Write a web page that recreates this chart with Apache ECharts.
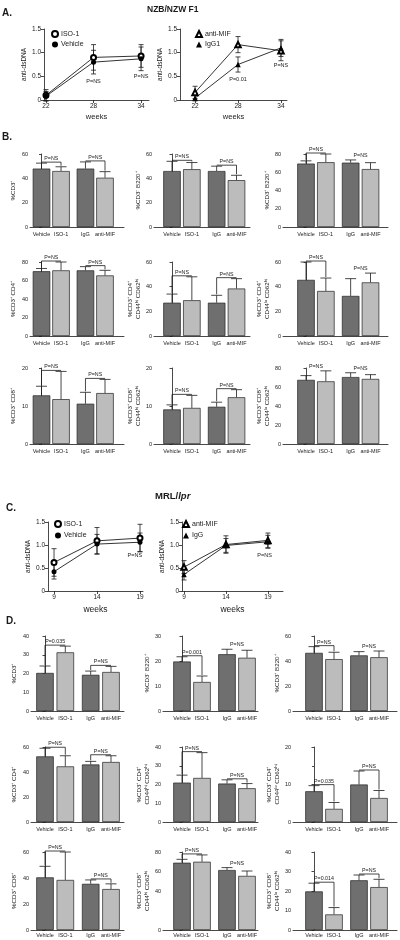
<!DOCTYPE html>
<html><head><meta charset="utf-8">
<script src="https://cdn.jsdelivr.net/npm/echarts@6/dist/echarts.min.js"></script>
<style>html,body{margin:0;padding:0;background:#fff}#c{width:400px;height:940px}</style>
</head><body><div id="c"></div>
<script>
// ---------------- DATA ----------------
// Panel A: NZB/NZW F1 anti-dsDNA
const weeksNZB = [22, 28, 34];
const nzbISO1 = [0.10, 0.90, 0.93];
const nzbISO1Sem = [0.12, 0.27, 0.24];
const nzbVehicle = [0.08, 0.80, 0.87];
const nzbVehicleSem = [0.10, 0.25, 0.25];
const nzbAntiMIF = [0.16, 1.17, 1.04];
const nzbAntiMIFSem = [0.13, 0.17, 0.21];
const nzbIgG1 = [0.04, 0.75, 1.10];
const nzbIgG1Sem = [0.06, 0.16, 0.18];
// Panel C: MRL/lpr anti-dsDNA
const weeksMRL = [9, 14, 19];
const mrlISO1 = [0.62, 1.09, 1.15];
const mrlISO1Sem = [0.30, 0.29, 0.30];
const mrlVehicle = [0.42, 1.02, 1.06];
const mrlVehicleSem = [0.16, 0.21, 0.20];
const mrlAntiMIF = [0.52, 1.01, 1.10];
const mrlAntiMIFSem = [0.14, 0.19, 0.16];
const mrlIgG = [0.36, 0.99, 1.07];
const mrlIgGSem = [0.12, 0.15, 0.14];

// Bar charts: groups
const groups = ['Vehicle', 'ISO-1', 'IgG', 'anti-MIF'];
// Panel B (NZB/NZW F1)
const nzbCD3 = [48, 46, 48, 40.5],        nzbCD3Sem = [4.5, 3.5, 5.5, 5];
const nzbCD3nB220 = [46, 47.5, 46, 38.5], nzbCD3nB220Sem = [8, 5.5, 4, 4];
const nzbCD3pB220 = [69.5, 71, 70.5, 63.5], nzbCD3pB220Sem = [3, 9, 3, 7];
const nzbCD4 = [70, 71, 71, 65.5],        nzbCD4Sem = [3, 9, 4, 5.5];
const nzbCD4hi = [27, 29, 27, 38.5],      nzbCD4hiSem = [7, 19, 6, 8];
const nzbCD4lo = [45.5, 36.5, 32.5, 43.5], nzbCD4loSem = [14.5, 10.5, 14, 7.5];
const nzbCD8 = [12.8, 11.8, 10.6, 13.4],  nzbCD8Sem = [2.4, 7.3, 3, 3.6];
const nzbCD8hi = [9.1, 9.5, 9.8, 12.3],   nzbCD8hiSem = [1.2, 3.3, 1.2, 2];
const nzbCD8lo = [67.5, 66, 70.5, 68.5],  nzbCD8loSem = [4.5, 11, 4.5, 4.5];
// Panel D (MRL/lpr)
const mrlCD3 = [20.3, 31.3, 19.3, 20.8],  mrlCD3Sem = [3.7, 3.3, 2, 3];
const mrlCD3nB220 = [19.8, 11.6, 22.7, 21.3], mrlCD3nB220Sem = [1.9, 2.4, 2, 3];
const mrlCD3pB220 = [46.5, 41.5, 44.5, 43], mrlCD3pB220Sem = [5, 5.5, 3, 5];
const mrlCD4 = [52.5, 44.5, 46, 48],      mrlCD4Sem = [6.5, 8.5, 2.5, 5];
const mrlCD4hi = [21, 23.5, 20.5, 18],    mrlCD4hiSem = [4, 13.5, 2, 2.5];
const mrlCD4lo = [8.2, 3.5, 10, 6.4],     mrlCD4loSem = [1.5, 1.7, 3.6, 2];
const mrlCD8 = [40.5, 38.5, 35.5, 31.5],  mrlCD8Sem = [8.5, 21.5, 3, 4];
const mrlCD8hi = [69, 70, 61.5, 55.5],    mrlCD8hiSem = [3.5, 7, 2.5, 5];
const mrlCD8lo = [19.8, 8, 25.5, 22],     mrlCD8loSem = [4.2, 3.5, 2.7, 4];

// ---------------- LAYOUT ----------------
const FONT = '"Liberation Sans", Arial, sans-serif';
const DARK = '#6f6f6f', LIGHT = '#bcbcbc', INK = '#1a1a1a';
const POS = [0, 1, 2.25, 3.25];

const grids = [], xAxes = [], yAxes = [], series = [], legends = [];

function axisLineStyle() { return { show: true, lineStyle: { color: INK, width: 0.8 } }; }

function addLineChart(cfg) {
  const g = grids.length;
  grids.push({ left: cfg.L, top: cfg.top, width: cfg.R - cfg.L, height: cfg.bottom - cfg.top, containLabel: false, outerBoundsMode: 'none' });
  xAxes.push({
    gridIndex: g, type: 'value', min: cfg.xMin, max: cfg.xMax,
    axisLine: axisLineStyle(),
    axisTick: { show: true, customValues: cfg.weeks, length: 3, lineStyle: { color: INK, width: 0.8 } },
    axisLabel: { customValues: cfg.weeks, fontSize: 6.5, margin: 3, color: INK, fontFamily: FONT },
    splitLine: { show: false },
    name: 'weeks', nameLocation: 'middle', nameGap: cfg.weeksGap,
    nameTextStyle: { fontSize: cfg.weeksSize, color: INK, fontFamily: FONT }
  });
  yAxes.push({
    gridIndex: g, type: 'value', min: 0, max: 1.5, interval: 0.5,
    axisLine: axisLineStyle(),
    axisTick: { show: true, length: 3, lineStyle: { color: INK, width: 0.8 } },
    axisLabel: { fontSize: 6.5, margin: 3, color: INK, fontFamily: FONT, formatter: v => v === 0 ? '0' : v.toFixed(1) },
    splitLine: { show: false },
    name: 'anti-dsDNA', nameLocation: 'middle', nameGap: cfg.nameGap, nameRotate: 90,
    nameTextStyle: { fontSize: 6.5, color: INK, fontFamily: FONT }
  });
  cfg.lines.forEach(ln => {
    series.push({
      type: 'custom', xAxisIndex: g, yAxisIndex: g, clip: false, z: 1, silent: true,
      data: cfg.weeks.map((w, i) => [w, ln.values[i], ln.sem[i]]),
      renderItem: (params, api) => {
        const x = api.value(0), m = api.value(1), s = api.value(2);
        const a = api.coord([x, m + s]), b = api.coord([x, m - s]);
        const st = { stroke: INK, lineWidth: 0.8 };
        return { type: 'group', children: [
          { type: 'line', shape: { x1: a[0], y1: a[1], x2: b[0], y2: b[1] }, style: st },
          { type: 'line', shape: { x1: a[0] - 2.5, y1: a[1], x2: a[0] + 2.5, y2: a[1] }, style: st },
          { type: 'line', shape: { x1: b[0] - 2.5, y1: b[1], x2: b[0] + 2.5, y2: b[1] }, style: st }
        ] };
      }
    });
  });
  cfg.lines.forEach(ln => {
    series.push({
      type: 'line', name: ln.name, xAxisIndex: g, yAxisIndex: g, z: 3,
      data: cfg.weeks.map((w, i) => [w, ln.values[i]]),
      symbol: ln.symbol, symbolSize: ln.size || 5, showAllSymbol: true,
      itemStyle: { color: '#000', borderWidth: 0.8 },
      lineStyle: { color: '#000', width: 0.8 }, silent: true
    });
  });
  const notes = cfg.notes;
  series.push({
    type: 'custom', xAxisIndex: g, yAxisIndex: g, clip: false, z: 4, silent: true,
    data: notes.map(n => [n.x, n.y]),
    renderItem: (params, api) => {
      const p = api.coord([api.value(0), api.value(1)]);
      return { type: 'text', x: p[0], y: p[1], style: { text: notes[params.dataIndex].text, fill: INK, font: '5.5px ' + FONT, align: 'center', verticalAlign: 'middle' } };
    }
  });
  legends.push({
    left: cfg.legend.left, top: cfg.legend.top, orient: 'vertical', padding: 0,
    itemWidth: 6, itemHeight: 6, itemGap: cfg.legend.gap, selectedMode: false,
    textStyle: { fontSize: 7, color: INK, fontFamily: FONT, padding: [0, 0, 0, -2] },
    data: cfg.lines.map(ln => ({ name: ln.name, icon: ln.symbol }))
  });
}

function addBarChart(cfg) {
  const g = grids.length;
  const u = (cfg.ac - cfg.vc) / 3.25;
  const xMin = -(cfg.vc - cfg.L) / u;
  const xMax = 3.25 + (cfg.R - cfg.ac) / u;
  grids.push({ left: cfg.L, top: cfg.top, width: cfg.R - cfg.L, height: cfg.bottom - cfg.top, containLabel: false, outerBoundsMode: 'none' });
  xAxes.push({
    gridIndex: g, type: 'value', min: xMin, max: xMax,
    axisLine: axisLineStyle(), axisTick: { show: false }, splitLine: { show: false },
    axisLabel: { customValues: POS, fontSize: 5.5, margin: cfg.lblMargin, color: INK, fontFamily: FONT,
      formatter: v => { const k = POS.findIndex(p => Math.abs(p - v) < 1e-6); return k >= 0 ? groups[k] : ''; } }
  });
  yAxes.push({
    gridIndex: g, type: 'value', min: 0, max: cfg.max, interval: cfg.interval,
    axisLine: axisLineStyle(),
    axisTick: { show: true, length: 2.5, lineStyle: { color: INK, width: 0.8 } },
    minorTick: cfg.minor ? { show: true, splitNumber: 2, length: 2, lineStyle: { color: INK, width: 0.8 } } : { show: false },
    axisLabel: { fontSize: 5.5, margin: 2, color: INK, fontFamily: FONT, formatter: v => (cfg.hide && cfg.hide.indexOf(v) >= 0) ? '' : String(v) },
    splitLine: { show: false },
    name: cfg.name, nameLocation: 'middle', nameGap: cfg.nameGap, nameRotate: 90,
    nameTextStyle: { fontSize: 6.2, lineHeight: 8, color: INK, fontFamily: FONT }
  });
  const mean = cfg.mean, sem = cfg.sem;
  series.push({
    type: 'bar', xAxisIndex: g, yAxisIndex: g, barWidth: 17.5, silent: true, z: 2,
    data: POS.map((p, k) => ({ value: [p, mean[k]], itemStyle: { color: k % 2 ? LIGHT : DARK } })),
    itemStyle: { borderColor: '#222', borderWidth: 0.7 }
  });
  series.push({
    type: 'custom', xAxisIndex: g, yAxisIndex: g, clip: false, z: 3, silent: true,
    data: POS.map((p, k) => [p, mean[k], mean[k] + sem[k]]),
    renderItem: (params, api) => {
      const a = api.coord([api.value(0), api.value(1)]), b = api.coord([api.value(0), api.value(2)]);
      const st = { stroke: INK, lineWidth: 0.8 };
      return { type: 'group', children: [
        { type: 'line', shape: { x1: a[0], y1: a[1], x2: b[0], y2: b[1] }, style: st },
        { type: 'line', shape: { x1: b[0] - 5.5, y1: b[1], x2: b[0] + 5.5, y2: b[1] }, style: st }
      ] };
    }
  });
  const labels = cfg.p, br = cfg.br;
  series.push({
    type: 'custom', xAxisIndex: g, yAxisIndex: g, clip: false, z: 4, silent: true,
    data: [[POS[0], POS[1], mean[0] + sem[0], mean[1] + sem[1]], [POS[2], POS[3], mean[2] + sem[2], mean[3] + sem[3]]],
    renderItem: (params, api) => {
      const a = api.coord([api.value(0), api.value(2)]), b = api.coord([api.value(1), api.value(3)]);
      const h = Math.min(a[1], b[1]) - 1;
      const st = { stroke: INK, lineWidth: 0.8, fill: null };
      const kids = [];
      const i = params.dataIndex;
      if (br[i]) kids.push({ type: 'polyline', shape: { points: [[a[0], a[1] - 1], [a[0], h], [b[0], h], [b[0], b[1] - 1]] }, style: st });
      kids.push({ type: 'text', x: (a[0] + b[0]) / 2, y: h - 1, style: { text: labels[i], font: '5.3px ' + FONT, fill: INK, align: 'center', verticalAlign: 'bottom' } });
      return { type: 'group', children: kids };
    }
  });
}

// line charts
addLineChart({ L: 44, R: 149, top: 29, bottom: 100, xMin: 21.75, xMax: 35, weeks: weeksNZB, nameGap: 15, weeksGap: 13, weeksSize: 7.5,
  lines: [{ name: 'ISO-1', values: nzbISO1, sem: nzbISO1Sem, symbol: 'emptyCircle' }, { name: 'Vehicle', values: nzbVehicle, sem: nzbVehicleSem, symbol: 'circle' }],
  notes: [{ x: 28, y: 0.40, text: 'P=NS' }, { x: 34, y: 0.49, text: 'P=NS' }],
  legend: { left: 51, top: 30, gap: 3 } });
addLineChart({ L: 180, R: 287, top: 29, bottom: 100, xMin: 19.9, xMax: 34.84, weeks: weeksNZB, nameGap: 15, weeksGap: 13, weeksSize: 7.5,
  lines: [{ name: 'anti-MIF', values: nzbAntiMIF, sem: nzbAntiMIFSem, symbol: 'emptyTriangle', size: 5.5 }, { name: 'IgG1', values: nzbIgG1, sem: nzbIgG1Sem, symbol: 'triangle', size: 5.5 }],
  notes: [{ x: 28, y: 0.44, text: 'P=0.01' }, { x: 34, y: 0.72, text: 'P=NS' }],
  legend: { left: 195, top: 30, gap: 3 } });
addLineChart({ L: 48, R: 143, top: 522, bottom: 591, xMin: 8.3, xMax: 19.35, weeks: weeksMRL, nameGap: 13, weeksGap: 14, weeksSize: 8.5,
  lines: [{ name: 'ISO-1', values: mrlISO1, sem: mrlISO1Sem, symbol: 'emptyCircle' }, { name: 'Vehicle', values: mrlVehicle, sem: mrlVehicleSem, symbol: 'circle' }],
  notes: [{ x: 18.4, y: 0.78, text: 'P=NS' }],
  legend: { left: 54, top: 520, gap: 4 } });
addLineChart({ L: 182, R: 283, top: 522, bottom: 591, xMin: 8.76, xMax: 20.8, weeks: weeksMRL, nameGap: 15, weeksGap: 14, weeksSize: 8.5,
  lines: [{ name: 'anti-MIF', values: mrlAntiMIF, sem: mrlAntiMIFSem, symbol: 'emptyTriangle', size: 5.5 }, { name: 'IgG', values: mrlIgG, sem: mrlIgGSem, symbol: 'triangle', size: 5.5 }],
  notes: [{ x: 18.6, y: 0.78, text: 'P=NS' }],
  legend: { left: 182, top: 520, gap: 4 } });

// bar charts
const colB = [{ L: 30, R: 124, vc: 41.5, ac: 105, gap: 13 }, { L: 154, R: 250, vc: 172, ac: 236.5, gap: 8 }, { L: 283, R: 388, vc: 306, ac: 370.5, gap: 8 }];
const colD = [{ L: 31, R: 124, vc: 45, ac: 111, gap: 13 }, { L: 163, R: 258, vc: 182, ac: 247, gap: 7 }, { L: 293, R: 397, vc: 314, ac: 379, gap: 7 }];
const rowsB = [{ top: 154, bottom: 227, m: 4 }, { top: 262, bottom: 336, m: 4 }, { top: 368, bottom: 444, m: 4 }];
const rowsD = [{ top: 636, bottom: 711, m: 4 }, { top: 747, bottom: 822, m: 4 }, { top: 852, bottom: 930, m: 2.5 }];

const barCharts = [
  // B
  [colB[0], rowsB[0], nzbCD3, nzbCD3Sem, 60, 20, '%CD3⁺', ['P=NS', 'P=NS'], [1, 1]],
  [colB[1], rowsB[0], nzbCD3nB220, nzbCD3nB220Sem, 60, 20, '%CD3⁻ B220⁺', ['P=NS', 'P=NS'], [1, 1]],
  [colB[2], rowsB[0], nzbCD3pB220, nzbCD3pB220Sem, 80, 20, '%CD3⁺ B220⁺', ['P=NS', 'P=NS'], [1, 0]],
  [colB[0], rowsB[1], nzbCD4, nzbCD4Sem, 80, 20, '%CD3⁺ CD4⁺', ['P=NS', 'P=NS'], [1, 1]],
  [colB[1], rowsB[1], nzbCD4hi, nzbCD4hiSem, 60, 20, '%CD3⁺ CD4⁺\nCD44ʰⁱ CD62ʰⁱ', ['P=NS', 'P=NS'], [1, 1]],
  [colB[2], rowsB[1], nzbCD4lo, nzbCD4loSem, 60, 20, '%CD3⁺ CD4⁺\nCD44ˡᵒ CD62ʰⁱ', ['P=NS', 'P=NS'], [1, 0]],
  [colB[0], rowsB[2], nzbCD8, nzbCD8Sem, 20, 10, '%CD3⁺ CD8⁺', ['P=NS', 'P=NS'], [1, 1]],
  [colB[1], rowsB[2], nzbCD8hi, nzbCD8hiSem, 20, 10, '%CD3⁺ CD8⁺\nCD44ʰⁱ CD62ʰⁱ', ['P=NS', 'P=NS'], [1, 1]],
  [colB[2], rowsB[2], nzbCD8lo, nzbCD8loSem, 80, 20, '%CD3⁺ CD8⁺\nCD44ˡᵒ CD62ʰⁱ', ['P=NS', 'P=NS'], [0, 0]],
  // D
  [colD[0], rowsD[0], mrlCD3, mrlCD3Sem, 40, 10, '%CD3⁺', ['P=0.035', 'P=NS'], [1, 1]],
  [colD[1], rowsD[0], mrlCD3nB220, mrlCD3nB220Sem, 30, 10, '%CD3⁻ B220⁺', ['P=0.001', 'P=NS'], [1, 0]],
  [colD[2], rowsD[0], mrlCD3pB220, mrlCD3pB220Sem, 60, 20, '%CD3⁺ B220⁺', ['P=NS', 'P=NS'], [1, 0]],
  [colD[0], rowsD[1], mrlCD4, mrlCD4Sem, 60, 20, '%CD3⁺ CD4⁺', ['P=NS', 'P=NS'], [1, 1]],
  [colD[1], rowsD[1], mrlCD4hi, mrlCD4hiSem, 40, 10, '%CD3⁺ CD4⁺\nCD44ʰⁱ CD62ʰⁱ', ['P=NS', 'P=NS'], [1, 1]],
  [colD[2], rowsD[1], mrlCD4lo, mrlCD4loSem, 20, 10, '%CD3⁺ CD4⁺\nCD44ˡᵒ CD62ʰⁱ', ['P=0.035', 'P=NS'], [1, 1], true],
  [colD[0], rowsD[2], mrlCD8, mrlCD8Sem, 60, 20, '%CD3⁺ CD8⁺', ['P=NS', 'P=NS'], [1, 1]],
  [colD[1], rowsD[2], mrlCD8hi, mrlCD8hiSem, 80, 20, '%CD3⁺ CD8⁺\nCD44ʰⁱ CD62ʰⁱ', ['P=NS', 'P=NS'], [1, 0], false, [20]],
  [colD[2], rowsD[2], mrlCD8lo, mrlCD8loSem, 40, 10, '%CD3⁺ CD8⁺\nCD44ˡᵒ CD62ʰⁱ', ['P=0.014', 'P=NS'], [1, 1]]
];
barCharts.forEach(b => addBarChart({ L: b[0].L, R: b[0].R, vc: b[0].vc, ac: b[0].ac, nameGap: b[0].gap,
  top: b[1].top, bottom: b[1].bottom, lblMargin: b[1].m, mean: b[2], sem: b[3], max: b[4], interval: b[5], name: b[6], p: b[7], br: b[8], minor: b[9], hide: b[10] }));

const titles = [
  { text: 'A.', left: 2, top: 8, padding: 0, textStyle: { fontSize: 10, fontWeight: 'bold', color: INK, fontFamily: FONT } },
  { text: 'NZB/NZW F1', left: 147, top: 5, padding: 0, textStyle: { fontSize: 8.5, fontWeight: 'bold', color: INK, fontFamily: FONT } },
  { text: 'B.', left: 2, top: 132, padding: 0, textStyle: { fontSize: 10, fontWeight: 'bold', color: INK, fontFamily: FONT } },
  { text: 'C.', left: 6, top: 503, padding: 0, textStyle: { fontSize: 10, fontWeight: 'bold', color: INK, fontFamily: FONT } },
  { text: '{a|MRL/}{b|lpr}', left: 155, top: 491, padding: 0, textStyle: { rich: { a: { fontSize: 9.5, fontWeight: 'bold', color: INK, fontFamily: FONT }, b: { fontSize: 9.5, fontWeight: 'bold', fontStyle: 'italic', color: INK, fontFamily: FONT } } } },
  { text: 'D.', left: 6, top: 616, padding: 0, textStyle: { fontSize: 10, fontWeight: 'bold', color: INK, fontFamily: FONT } }
];

const chart = echarts.init(document.getElementById('c'), null, { renderer: 'canvas' });
chart.setOption({
  animation: false, backgroundColor: '#fff',
  textStyle: { fontFamily: FONT },
  title: titles, legend: legends, grid: grids, xAxis: xAxes, yAxis: yAxes, series: series
});
</script></body></html>
